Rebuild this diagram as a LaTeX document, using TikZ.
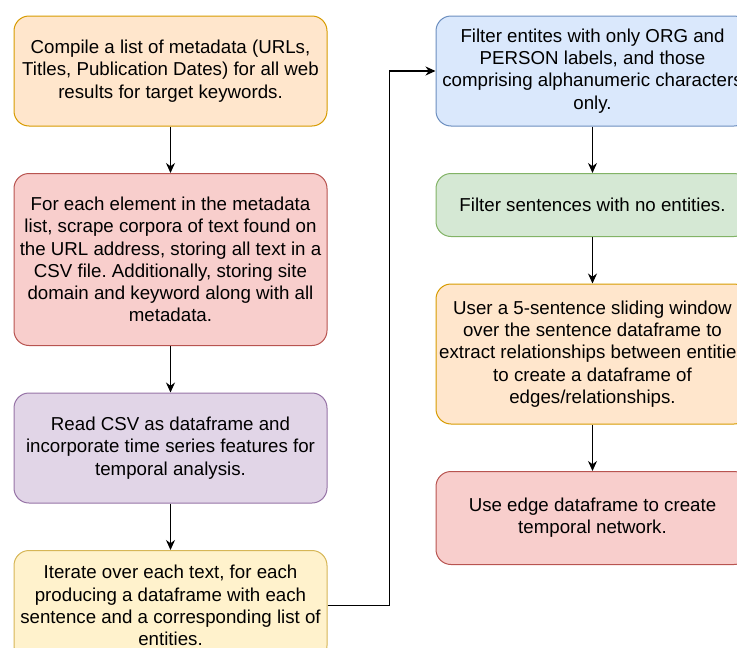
\documentclass[tikz,border=0pt]{standalone}
\usepackage{fontspec}
\setmainfont{Liberation Sans}
\usetikzlibrary{positioning, arrows.meta}
\frenchspacing

\definecolor{orangefill}{HTML}{FFE6CC}\definecolor{orangeline}{HTML}{D79B00}
\definecolor{redfill}{HTML}{F8CECC}\definecolor{redline}{HTML}{B85450}
\definecolor{purplefill}{HTML}{E1D5E7}\definecolor{purpleline}{HTML}{9673A6}
\definecolor{yellowfill}{HTML}{FFF2CC}\definecolor{yellowline}{HTML}{D6B656}
\definecolor{bluefill}{HTML}{DAE8FC}\definecolor{blueline}{HTML}{6C8EBF}
\definecolor{greenfill}{HTML}{D5E8D4}\definecolor{greenline}{HTML}{82B366}

\begin{document}
\begin{tikzpicture}[
    node distance=46.5pt and 108pt,
    stage/.style={draw, rectangle, rounded corners=15pt, line width=1pt,
                  minimum width=313pt, align=center, inner sep=2pt,
                  font=\fontsize{18.7}{22.3}\selectfont},
    orangebox/.style={stage, fill=orangefill, draw=orangeline},
    redbox/.style={stage, fill=redfill, draw=redline},
    purplebox/.style={stage, fill=purplefill, draw=purpleline},
    yellowbox/.style={stage, fill=yellowfill, draw=yellowline},
    bluebox/.style={stage, fill=bluefill, draw=blueline},
    greenbox/.style={stage, fill=greenfill, draw=greenline},
    arrow/.style={-{Stealth[length=10pt, width=9pt]}, line width=1.2pt}]
  \useasboundingbox (0,0) rectangle (737pt,-648pt);
  \clip (0,0) rectangle (737pt,-648pt);

  % left column
  \node[orangebox, minimum height=110pt] at (170.5pt,-71pt) (meta)
    {Compile a list of metadata (URLs,\\Titles, Publication Dates) for all web\\results for target keywords.};
  \node[redbox, minimum height=172pt, below=of meta] (scrape)
    {For each element in the metadata\\list, scrape corpora of text found on\\the URL address, storing all text in a\\CSV file. Additionally, storing site\\domain and keyword along with all\\metadata.};
  \node[purplebox, minimum height=110pt, below=of scrape] (csv)
    {Read CSV as dataframe and\\incorporate time series features for\\temporal analysis.};
  \node[yellowbox, minimum height=110pt, below=of csv] (iter)
    {Iterate over each text, for each\\producing a dataframe with each\\sentence and a corresponding list of\\entities.};

  % right column
  \node[bluebox, minimum height=110pt, right=of meta] (ents)
    {Filter entites with only ORG and\\PERSON labels, and those\\comprising alphanumeric characters\\only.};
  \node[greenbox, minimum height=63pt, below=of ents] (sents)
    {Filter sentences with no entities.};
  \node[orangebox, minimum height=140pt, below=of sents] (window)
    {User a 5-sentence sliding window\\over the sentence dataframe to\\extract relationships between entities\\to create a dataframe of\\edges/relationships.};
  \node[redbox, minimum height=93pt, below=of window] (net)
    {Use edge dataframe to create\\temporal network.};

  \draw[arrow] (meta) -- (scrape);
  \draw[arrow] (scrape) -- (csv);
  \draw[arrow] (csv) -- (iter);
  \draw[arrow] (iter.east) -- ++(62pt,0) |- (ents.west);
  \draw[arrow] (ents) -- (sents);
  \draw[arrow] (sents) -- (window);
  \draw[arrow] (window) -- (net);
\end{tikzpicture}
\end{document}
